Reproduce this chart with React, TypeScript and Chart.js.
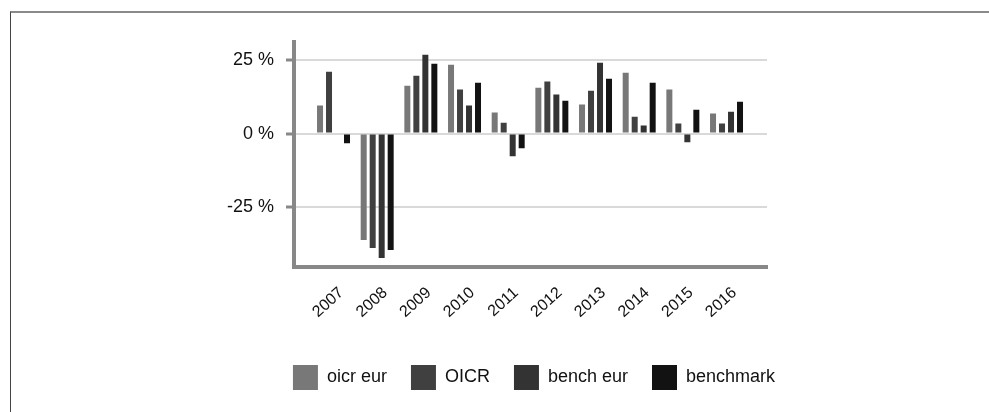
import React, { useEffect, useRef } from "react";
import { Chart, registerables } from "chart.js";

Chart.register(...registerables);

const years = ["2007", "2008", "2009", "2010", "2011", "2012", "2013", "2014", "2015", "2016"];
const oicrEur = [9.5, -36.0, 16.2, 23.3, 7.1, 15.5, 9.8, 20.6, 14.9, 6.8];
const oicr = [20.9, -38.7, 19.6, 14.9, 3.7, 17.6, 14.5, 5.7, 3.4, 3.4];
const benchEur = [null, -42.1, 26.7, 9.5, -7.7, 13.2, 24.0, 2.7, -2.9, 7.4];
const benchmark = [-3.3, -39.4, 23.6, 17.2, -5.0, 11.1, 18.6, 17.2, 8.1, 10.8];
const yTicks = [-25, 0, 25];

const seriesNames = ["oicr eur", "OICR", "bench eur", "benchmark"];
const seriesColors = ["#787878", "#404040", "#333333", "#121212"];
const seriesValues = [oicrEur, oicr, benchEur, benchmark];

const FONT = "'Liberation Sans', Arial, sans-serif";

export default function App() {
  const ref = useRef<HTMLCanvasElement | null>(null);

  useEffect(() => {
    if (!ref.current) return;
    const datasets = seriesNames.map((name, s) => ({
      label: name,
      data: years.map((_, i) => ({ x: i, y: seriesValues[s][i] })),
      backgroundColor: seriesColors[s],
      borderWidth: 0,
      categoryPercentage: 0.824,
      barPercentage: 0.667,
    }));
    const chart = new Chart(ref.current, {
      type: "bar",
      data: { datasets: datasets as any },
      options: {
        animation: false,
        responsive: false,
        devicePixelRatio: 1,
        layout: { padding: { left: 227, right: 148, top: 42, bottom: 12 } },
        plugins: {
          tooltip: { enabled: false },
          legend: {
            position: "bottom",
            labels: {
              boxWidth: 25,
              boxHeight: 25,
              padding: 24,
              color: "#111",
              font: { family: FONT, size: 18 },
            },
          },
        },
        scales: {
          x: {
            type: "linear",
            min: -0.905,
            max: 9.927,
            offset: false,
            afterBuildTicks: (scale: any) => {
              scale.ticks = years.map((_, i) => ({ value: i }));
            },
            afterFit: (scale: any) => {
              scale.height = 74.5;
            },
            grid: { display: false, drawTicks: false },
            border: { display: true, color: "#888", width: 4 },
            ticks: {
              autoSkip: false,
              maxRotation: 42,
              minRotation: 42,
              padding: 17,
              labelOffset: 8,
              color: "#111",
              font: { family: FONT, size: 16 },
              callback: (v: any) => years[Math.round(Number(v))] ?? "",
            },
          },
          y: {
            type: "linear",
            min: -45,
            max: 31,
            afterBuildTicks: (scale: any) => {
              scale.ticks = yTicks.map((v) => ({ value: v }));
            },
            afterFit: (scale: any) => {
              scale.width = 67;
            },
            grid: {
              color: "#d9d9d9",
              lineWidth: 2,
              tickColor: "#888",
              tickWidth: 3,
              tickLength: 8,
            },
            border: { display: true, color: "#888", width: 4 },
            ticks: {
              padding: 12,
              color: "#111",
              font: { family: FONT, size: 18 },
              callback: (v: any) => v + " %",
            },
          },
          yR: {
            type: "linear",
            position: "right",
            display: true,
            min: 0,
            max: 1,
            afterFit: (scale: any) => {
              scale.width = 74;
            },
            grid: { display: false, drawTicks: false },
            border: { display: false },
            ticks: { display: false },
          },
        },
      } as any,
    });
    return () => chart.destroy();
  }, []);

  return (
    <div style={{ position: "absolute", left: 0, top: 0, width: 989, height: 412, overflow: "hidden", background: "#fff" }}>
      <div
        style={{
          position: "absolute",
          left: 10,
          top: 11,
          width: 1100,
          height: 600,
          borderTop: "2px solid #8a8a8a",
          borderLeft: "1px solid #444",
        }}
      />
      <canvas ref={ref} width={989} height={412} style={{ position: "absolute", left: 0, top: 0, width: 989, height: 412 }} />
    </div>
  );
}
